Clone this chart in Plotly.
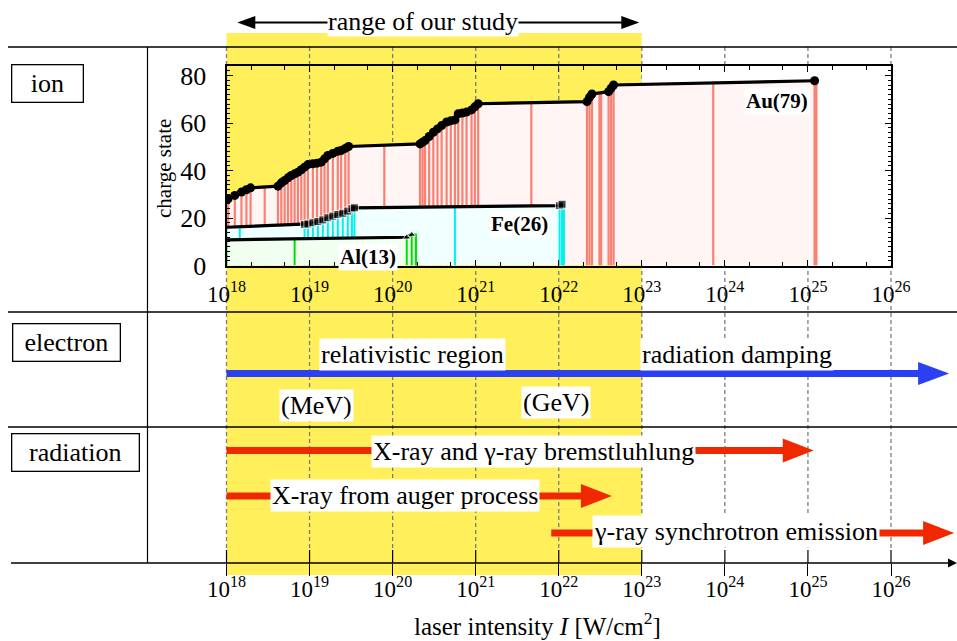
import math
import plotly.graph_objects as go

W, H = 957, 641
FONT = "Liberation Serif"

# ---------------- data ----------------
decades = [18, 19, 20, 21, 22, 23, 24, 25, 26]
decade_labels = ["10<sup>%d</sup>" % d for d in decades]
study_range = [18, 23]  # log10 I of the "range of our study"

# Au(79): average charge state vs log10 intensity
au_logI = [18.02, 18.10, 18.18, 18.24, 18.29, 18.62, 18.66, 18.70, 18.74, 18.78, 18.82, 18.86,
           18.90, 18.94, 18.98, 19.04, 19.09, 19.14, 19.18, 19.22, 19.28, 19.34, 19.38, 19.43,
           19.47, 20.33, 20.36, 20.39, 20.44, 20.49, 20.54, 20.59, 20.65, 20.70, 20.75, 20.79,
           20.84, 20.89, 20.95, 20.99, 21.03, 22.34, 22.37, 22.40, 22.60, 22.63, 22.66, 25.08]
au_q = [28.1, 29.5, 30.9, 31.9, 32.7, 33.4, 34.8, 35.8, 36.9, 37.9, 38.6, 39.3,
        40.3, 41.4, 42.5, 42.8, 43.1, 43.5, 44.9, 46.3, 47.2, 48.1, 48.4, 49.3,
        50.1, 51.2, 51.9, 52.6, 54.3, 56.1, 57.5, 58.9, 60.4, 60.9, 61.3, 63.9,
        64.2, 64.6, 65.5, 66.8, 68.1, 69.0, 70.8, 72.2, 73.2, 74.6, 76.0, 77.8]
au_extra_logI = [18.46, 19.90, 21.67, 22.49, 22.51, 23.86, 25.10]
au_extra_q = [33.1, 50.7, 68.6, 72.8, 72.8, 77.0, 77.8]
au_end = 25.10

# Fe(26)
fe_logI = [18.00, 18.94, 18.98, 19.04, 19.10, 19.16, 19.22, 19.28, 19.34, 19.40, 19.46, 19.51,
           19.54, 22.01, 22.04]
fe_q = [16.1, 17.3, 17.5, 18.0, 18.5, 19.2, 20.1, 20.8, 21.5, 22.0, 22.9, 23.9,
        24.3, 25.2, 25.8]
fe_extra_logI = [18.16, 20.75, 22.06]
fe_extra_q = [16.3, 25.0, 25.8]
fe_end = 22.06

# Al(13)
al_logI = [18.00, 20.17, 20.23]
al_q = [10.8, 11.9, 13.0]
al_extra_logI = [18.82, 20.28]
al_extra_q = [11.3, 13.0]
al_end = 20.28

# arrows in the lower panels (log10 I of start / tip)
electron_arrow = [18.0, 26.70]
brems_arrow = [18.0, 25.07]
auger_arrow = [18.0, 22.64]
synch_arrow = [21.91, 26.76]
study_arrow = [18.13, 22.97]

# ---------------- geometry ----------------
PX0 = 226.5          # pixel of 10^18
PXD = 83.0625        # pixels per decade
def lx(px):
    return decades[0] + (px - PX0) / PXD

YEL = "#FFEF5A"
SALMON = "#FA8072"
CYAN = "#00F0F0"
GREEN = "#00E000"
BLUE = "#2A40F2"
RED = "#F02800"
DASH = "rgb(125,125,125)"

fig = go.Figure()

# ---------------- ion plot traces (x2/y2) ----------------
def fill_poly(xs, qs, end, fillcol, linecol):
    x = [decades[0], decades[0]] + xs + [end, end]
    y = [0, qs[0]] + qs + [qs[-1], 0]
    fig.add_trace(go.Scatter(x=x, y=y, xaxis="x2", yaxis="y2", mode="lines", fill="toself",
                             fillcolor=fillcol, line=dict(color=linecol, width=2),
                             hoverinfo="skip"))

def vlines(xs, qs, col, width=2):
    X, Y = [], []
    for a, b in zip(xs, qs):
        X += [a, a, None]
        Y += [0, b, None]
    fig.add_trace(go.Scatter(x=X, y=Y, xaxis="x2", yaxis="y2", mode="lines",
                             line=dict(color=col, width=width), hoverinfo="skip"))

fill_poly(au_logI, au_q, au_end, "#FFF5F4", SALMON)
vlines(au_logI + au_extra_logI, au_q + au_extra_q, SALMON, 2.2)
fill_poly(fe_logI, fe_q, fe_end, "#F0FFFF", CYAN)
vlines(fe_logI[1:] + fe_extra_logI, fe_q[1:] + fe_extra_q, CYAN, 2)
fill_poly(al_logI, al_q, al_end, "#F0FFF0", GREEN)
vlines(al_extra_logI + al_logI[1:], al_extra_q + al_q[1:], GREEN, 2)

fig.add_trace(go.Scatter(x=au_logI, y=au_q, xaxis="x2", yaxis="y2", mode="lines+markers",
                         line=dict(color="black", width=3.2),
                         marker=dict(symbol="circle", size=9, color="black")))
fig.add_trace(go.Scatter(x=fe_logI, y=fe_q, xaxis="x2", yaxis="y2", mode="lines+markers",
                         line=dict(color="black", width=3.2),
                         marker=dict(symbol="square", size=[0] + [8] * (len(fe_q) - 1),
                                     color="black")))
fig.add_trace(go.Scatter(x=al_logI, y=al_q, xaxis="x2", yaxis="y2", mode="lines+markers",
                         line=dict(color="black", width=3.2),
                         marker=dict(symbol="triangle-up", size=[0] + [7] * (len(al_q) - 1),
                                     color="black")))

# ---------------- shapes ----------------
shapes = []

def sline(x0, y0, x1, y1, color="black", width=1.3, dash=None, xref="x", yref="y"):
    shapes.append(dict(type="line", xref=xref, yref=yref, x0=x0, y0=y0, x1=x1, y1=y1,
                       line=dict(color=color, width=width, dash=dash), layer="below"))

def head(tip, y, length_px, half_px, color, direction=1):
    base = tip - direction * length_px / PXD
    path = "M%f,%f L%f,%f L%f,%f Z" % (tip, y, base, y - half_px, base, y + half_px)
    shapes.append(dict(type="path", xref="x", yref="y", path=path, fillcolor=color,
                       line=dict(width=0), layer="below"))

# yellow band
shapes.append(dict(type="rect", xref="x", yref="y", x0=study_range[0], x1=study_range[1],
                   y0=33, y1=575, fillcolor=YEL, line=dict(width=0), layer="below"))
# dashed decade lines
for d in decades:
    sline(d, 47, d, 550, color=DASH, width=1.3, dash="4px,3px")
# frame lines
for yy in (47, 312, 427):
    sline(lx(8), yy, lx(957), yy, width=1.3)
sline(lx(147.5), 47, lx(147.5), 563, width=1.2)
# bottom axis with arrow
sline(lx(11), 563, lx(950), 563, width=1.6)
head(lx(957), 563, 9, 4.5, "black")
for d in decades:
    sline(d, 550, d, 563, width=1.2)
# top arrow (range of our study)
sline(study_arrow[0] + 15 / PXD, 22.5, study_arrow[1] - 15 / PXD, 22.5, width=2.2)
head(study_arrow[0], 22.5, 18, 6.5, "black", direction=-1)
head(study_arrow[1], 22.5, 18, 6.5, "black", direction=1)
# electron arrow
sline(electron_arrow[0], 373.5, electron_arrow[1] - 30 / PXD, 373.5, color=BLUE, width=7)
head(electron_arrow[1], 373.5, 31, 11.5, BLUE)
# radiation arrows
for (a, b), yy in ((brems_arrow, 450.5), (auger_arrow, 496), (synch_arrow, 533)):
    sline(a, yy, b - 30 / PXD, yy, color=RED, width=7)
    head(b, yy, 31, 12, RED)
# ion plot white background beyond the band
shapes.append(dict(type="rect", xref="x2", yref="y2", x0=study_range[1], x1=decades[-1],
                   y0=0, y1=84, fillcolor="white", line=dict(width=0), layer="below"))

# ---------------- annotations ----------------
ann = []
def txt(x, y, s, size=26, bg=None, xref="x", yref="y", **kw):
    d = dict(x=x, y=y, xref=xref, yref=yref, text=s, showarrow=False,
             font=dict(family=FONT, size=size, color="black"), xanchor="center", yanchor="middle")
    if bg:
        d.update(bgcolor=bg, borderpad=1)
    d.update(kw)
    ann.append(d)

txt(20.36, 21, "range of our study", 26, bg="white", borderpad=0)
txt(20.239, 354, "relativistic region", 26, bg="white")
txt(24.146, 354, "radiation damping", 26, bg="white")
txt(19.083, 405.5, "(MeV)", 26, bg="white")
txt(21.967, 402.5, "(GeV)", 26, bg="white")
txt(21.70, 451.5, "X-ray and γ-ray bremstluhlung", 26, bg="white")
txt(20.149, 495.5, "X-ray from auger process", 26, bg="white")
txt(24.128, 531.5, "γ-ray synchrotron emission", 26, bg="white")
txt(21.74, 624, "laser intensity <i>I</i> [W/cm<sup>2</sup>]", 25)

# panel labels
for cx, cy, s, w in ((47, 83, "ion", 64), (66, 342.5, "electron", 100), (75, 452, "radiation", 120)):
    txt(cx / W, cy, s, 26, xref="paper", bgcolor="white", bordercolor="black",
        borderwidth=1.3, borderpad=3, width=w, height=30)

# ion plot labels
txt(164 / W, 169, "charge state", 21, xref="paper", textangle=-90)
txt(24.63, 69.3, "<b>Au(79)</b>", 21, bg="white", xref="x2", yref="y2")
txt(21.53, 17.3, "<b>Fe(26)</b>", 21, bg="white", xref="x2", yref="y2")
txt(19.70, 3.6, "<b>Al(13)</b>", 21, bg="white", xref="x2", yref="y2")

minor_vals = []
for d in decades[:-1]:
    minor_vals += [d + math.log10(2), d + math.log10(5)]

fig.update_layout(
    width=W, height=H, margin=dict(l=0, r=0, t=0, b=0, autoexpand=False),
    paper_bgcolor="white", plot_bgcolor="rgba(0,0,0,0)", showlegend=False,
    shapes=shapes, annotations=ann,
    font=dict(family=FONT, color="black"),
    xaxis=dict(domain=[0, 1], range=[lx(0), lx(W)], anchor="free", position=1 - 563 / H,
               showgrid=False, zeroline=False, showline=False, automargin=False,
               tickmode="array", tickvals=decades, ticktext=decade_labels,
               ticks="outside", ticklen=12, tickwidth=1.2, tickcolor="black",
               tickfont=dict(family=FONT, size=23), ticklabelstandoff=-7, fixedrange=True),
    yaxis=dict(domain=[0, 1], range=[H, 0], visible=False, fixedrange=True, automargin=False),
    xaxis2=dict(domain=[PX0 / W, (PX0 + 8 * PXD) / W], range=[decades[0], decades[-1]],
                anchor="y2", showgrid=False, zeroline=False, showline=True, linewidth=2,
                linecolor="black", mirror="ticks", ticks="inside", ticklen=6, tickwidth=1,
                tickcolor="black", tickmode="array", tickvals=decades, ticktext=decade_labels,
                tickfont=dict(family=FONT, size=23), ticklabelstandoff=7, automargin=False,
                minor=dict(tickmode="array", tickvals=minor_vals, ticks="inside", ticklen=4,
                           tickcolor="black"),
                fixedrange=True),
    yaxis2=dict(domain=[1 - 265.5 / H, 1 - 66 / H], range=[0, 84], anchor="x2",
                showgrid=False, zeroline=False, showline=True, linewidth=2, linecolor="black",
                mirror="ticks", ticks="inside", ticklen=6, tickwidth=1, tickcolor="black",
                dtick=20, tick0=0, tickfont=dict(family=FONT, size=26), ticklabelstandoff=13,
                automargin=False,
                minor=dict(dtick=2, ticks="inside", ticklen=3, tickcolor="black"),
                fixedrange=True),
)

fig.write_html("out.html")
